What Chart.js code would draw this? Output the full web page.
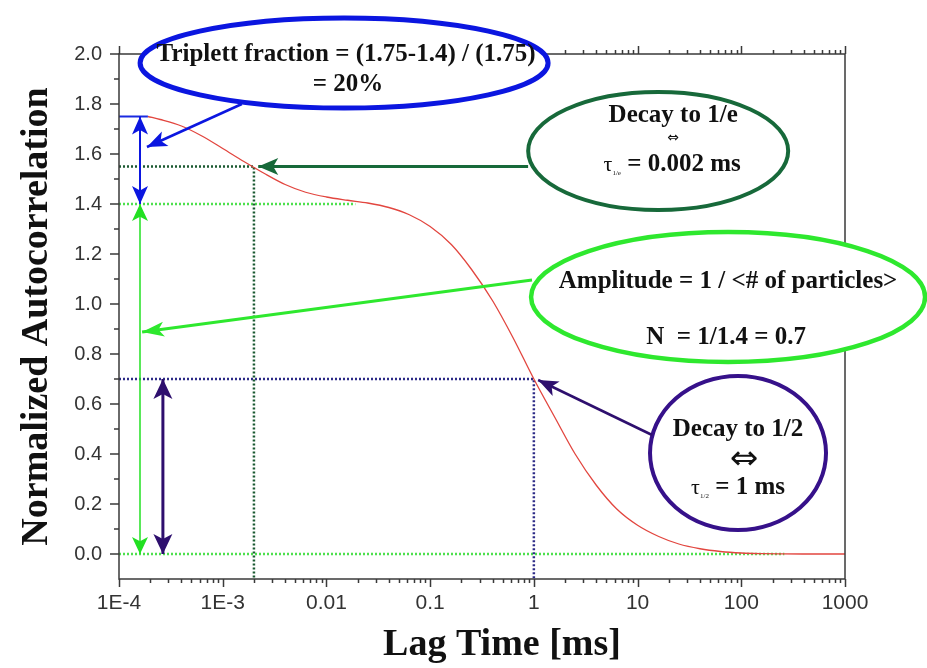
<!DOCTYPE html>
<html>
<head>
<meta charset="utf-8">
<script src="https://cdn.jsdelivr.net/npm/chart.js@4.4.1/dist/chart.umd.min.js"></script>
<style>
  html, body { margin: 0; padding: 0; background: #fff; }
</style>
</head>
<body>
<canvas id="myChart" width="927" height="668"></canvas>
<script>
// Messkurve
const lagTime = [1.9e-4, 2.5e-4, 4e-4, 6.3e-4, 1e-3, 1.6e-3, 2.5e-3, 4e-3, 6.3e-3, 0.01, 0.016,
  0.025, 0.04, 0.063, 0.1, 0.16, 0.25, 0.4, 0.63, 1, 1.6, 2.5, 4, 6.3, 10, 16, 25, 40, 63, 100,
  160, 250, 400, 630, 1000];
const autocorr = [1.75, 1.738, 1.712, 1.672, 1.622, 1.57, 1.523, 1.478, 1.447, 1.428, 1.415,
  1.404, 1.386, 1.357, 1.310, 1.238, 1.139, 1.013, 0.865, 0.70, 0.545, 0.40, 0.275, 0.18, 0.115,
  0.07, 0.04, 0.021, 0.01, 0.004, 0.0015, 0.0005, 0, 0, 0];

// Achsen
const xTicks = [1e-4, 1e-3, 0.01, 0.1, 1, 10, 100, 1000];
const xTickLabels = ["1E-4", "1E-3", "0.01", "0.1", "1", "10", "100", "1000"];
const yTicks = [0, 0.2, 0.4, 0.6, 0.8, 1.0, 1.2, 1.4, 1.6, 1.8, 2.0];
const yTickLabels = ["0.0", "0.2", "0.4", "0.6", "0.8", "1.0", "1.2", "1.4", "1.6", "1.8", "2.0"];
const yMinorTicks = [0.1, 0.3, 0.5, 0.7, 0.9, 1.1, 1.3, 1.5, 1.7, 1.9];

// Hilfslinien
const startLevelX = [1e-4, 1.9e-4];     const startLevelY = [1.75, 1.75];
const eLevelX = [1e-4, 0.002, 0.002];   const eLevelY = [1.55, 1.55, -0.1];
const ampLevelX = [1e-4, 0.019];        const ampLevelY = [1.4, 1.4];
const halfLevelX = [1e-4, 1, 1];        const halfLevelY = [0.7, 0.7, -0.1];
const zeroLevelX = [1e-4, 260];         const zeroLevelY = [0, 0];

const SERIF = "'Liberation Serif', 'Times New Roman', serif";
const SANS = "'Liberation Sans', Arial, sans-serif";

const toPoints = (xs, ys) => xs.map((v, i) => ({ x: v, y: ys[i] }));

function guide(xs, ys, color, dashed) {
  return {
    data: toPoints(xs, ys),
    showLine: true,
    borderColor: color,
    borderWidth: dashed ? 2.5 : 2,
    borderDash: dashed ? [2, 2] : [],
    pointRadius: 0,
    tension: 0
  };
}

// Sprechblasen (Position in Datenkoordinaten, Radien in Pixel)
const callouts = [
  { color: '#0b16e0', lw: 5, at: [0.0148, 1.964], rx: 204, ry: 45,
    lines: [
      { dx: 2, dy: -8, parts: [['Triplett fraction = (1.75-1.4) / (1.75)', 'bold 25px ' + SERIF]] },
      { dx: 4, dy: 22, parts: [['= 20%', 'bold 25px ' + SERIF]] }
    ] },
  { color: '#17693a', lw: 4, at: [15.8, 1.612], rx: 130, ry: 59,
    lines: [
      { dx: 15, dy: -35, parts: [['Decay to 1/e', 'bold 25px ' + SERIF]] },
      { dx: 15, dy: -13, parts: [['\u21D4', '14px DejaVu Sans']] },
      { dx: 14, dy: 14, parts: [['\u03C4', '22px ' + SERIF], ['1/e', '7px ' + SERIF, 8], [' = 0.002 ms', 'bold 25px ' + SERIF]] }
    ] },
  { color: '#2ee82e', lw: 4.5, at: [74.6, 1.028], rx: 197, ry: 65,
    lines: [
      { dx: 0, dy: -15, parts: [['Amplitude = 1 / <# of particles>', 'bold 25px ' + SERIF]] },
      { dx: -2, dy: 41, parts: [['N  = 1/1.4 = 0.7', 'bold 25px ' + SERIF]] }
    ] },
  { color: '#36118a', lw: 4, at: [93, 0.404], rx: 88, ry: 77,
    lines: [
      { dx: 0, dy: -23, parts: [['Decay to 1/2', 'bold 25px ' + SERIF]] },
      { dx: 6, dy: 7, parts: [['\u21D4', '34px DejaVu Sans']] },
      { dx: 0, dy: 35, parts: [['\u03C4', '22px ' + SERIF], ['1/2', '7px ' + SERIF, 8], [' = 1 ms', 'bold 25px ' + SERIF]] }
    ] }
];

// Pfeile: from -> to (Datenkoordinaten)
const arrows = [
  { from: [1.53e-3, 1.80], to: [1.86e-4, 1.628], color: '#0b16e0', lw: 2.5, head: 20, hw: 16 },
  { from: [1.594e-4, 1.75], to: [1.594e-4, 1.4], color: '#0b16e0', lw: 2, head: 18, hw: 16, both: true },
  { from: [1.594e-4, 1.4], to: [1.594e-4, 0], color: '#22e022', lw: 1.5, head: 17, hw: 16, both: true },
  { from: [2.65e-4, 0.7], to: [2.65e-4, 0], color: '#2e0f6e', lw: 3, head: 20, hw: 19, both: true },
  { from: [0.88, 1.55], to: [2.2e-3, 1.55], color: '#17693a', lw: 3, head: 20, hw: 17 },
  { from: [0.96, 1.096], to: [1.67e-4, 0.888], color: '#2ee82e', lw: 3, head: 22, hw: 15 },
  { from: [13.8, 0.476], to: [1.1, 0.696], color: '#2e0f6e', lw: 2.5, head: 20, hw: 16 }
];

function drawArrowHead(ctx, x1, y1, x2, y2, head, hw) {
  const ang = Math.atan2(y2 - y1, x2 - x1);
  ctx.save();
  ctx.translate(x2, y2);
  ctx.rotate(ang);
  ctx.beginPath();
  ctx.moveTo(0, 0);
  ctx.lineTo(-head, -hw / 2);
  ctx.lineTo(-head * 0.75, 0);
  ctx.lineTo(-head, hw / 2);
  ctx.closePath();
  ctx.fill();
  ctx.restore();
}

function drawTextLine(ctx, cx, cy, parts) {
  let total = 0;
  const widths = parts.map(p => { ctx.font = p[1]; const w = ctx.measureText(p[0]).width; total += w; return w; });
  let x = cx - total / 2;
  parts.forEach((p, i) => {
    ctx.font = p[1];
    ctx.fillText(p[0], x, cy + (p[2] || 0));
    x += widths[i];
  });
}

const annotationPlugin = {
  id: 'fcsAnnotations',
  afterDatasetsDraw(chart) {
    const { ctx, chartArea: a, scales: { x, y } } = chart;
    const px = (v) => x.getPixelForValue(v);
    const py = (v) => y.getPixelForValue(v);
    ctx.save();

    // Rahmen + Ticks
    ctx.strokeStyle = '#3a3a3a';
    ctx.lineWidth = 1.5;
    ctx.strokeRect(a.left, a.top, a.right - a.left, a.bottom - a.top);
    ctx.beginPath();
    for (let k = -4; k <= 3; k++) {
      for (let m = 1; m <= 9; m++) {
        const v = m * Math.pow(10, k);
        if (v > 1000.0001) break;
        const len = m === 1 ? 8 : 4;
        const xx = Math.round(px(v)) + 0.5;
        ctx.moveTo(xx, a.bottom); ctx.lineTo(xx, a.bottom + len);
        ctx.moveTo(xx, a.top); ctx.lineTo(xx, a.top - len);
      }
    }
    yTicks.forEach(v => { const yy = py(v); ctx.moveTo(a.left, yy); ctx.lineTo(a.left - 9, yy); });
    yMinorTicks.forEach(v => { const yy = py(v); ctx.moveTo(a.left, yy); ctx.lineTo(a.left - 5, yy); });
    ctx.stroke();

    // Ellipsen + Text
    callouts.forEach(c => {
      const cx = px(c.at[0]), cy = py(c.at[1]);
      ctx.beginPath();
      ctx.ellipse(cx, cy, c.rx, c.ry, 0, 0, Math.PI * 2);
      ctx.fillStyle = '#fff';
      ctx.fill();
      ctx.strokeStyle = c.color;
      ctx.lineWidth = c.lw;
      ctx.stroke();
      ctx.fillStyle = '#111';
      ctx.textAlign = 'left';
      ctx.textBaseline = 'middle';
      c.lines.forEach(l => drawTextLine(ctx, cx + l.dx, cy + l.dy, l.parts));
    });

    // Pfeile
    arrows.forEach(ar => {
      const x1 = px(ar.from[0]), y1 = py(ar.from[1]);
      const x2 = px(ar.to[0]), y2 = py(ar.to[1]);
      ctx.strokeStyle = ar.color;
      ctx.fillStyle = ar.color;
      ctx.lineWidth = ar.lw;
      ctx.beginPath();
      ctx.moveTo(x1, y1);
      ctx.lineTo(x2, y2);
      ctx.stroke();
      drawArrowHead(ctx, x1, y1, x2, y2, ar.head, ar.hw);
      if (ar.both) drawArrowHead(ctx, x2, y2, x1, y1, ar.head, ar.hw);
    });

    // x-Achsentitel
    ctx.fillStyle = '#111';
    ctx.font = 'bold 38px ' + SERIF;
    ctx.textAlign = 'center';
    ctx.textBaseline = 'alphabetic';
    ctx.fillText('Lag Time [ms]', 502, 655);
    ctx.restore();
  }
};

const ctx = document.getElementById("myChart").getContext("2d");
const myChart = new Chart(ctx, {
  type: 'scatter',
  data: {
    datasets: [
      {
        data: toPoints(lagTime, autocorr),
        showLine: true,
        borderColor: '#e2463f',
        borderWidth: 1.3,
        pointRadius: 0,
        cubicInterpolationMode: 'monotone'
      },
      guide(startLevelX, startLevelY, '#1a2ae0', false),
      guide(eLevelX, eLevelY, '#1b5a32', true),
      guide(ampLevelX, ampLevelY, '#4ee04e', true),
      guide(halfLevelX, halfLevelY, '#2c2a86', true),
      guide(zeroLevelX, zeroLevelY, '#4ee04e', true)
    ]
  },
  options: {
    responsive: false,
    animation: false,
    layout: { padding: { left: 0, top: 54, right: 82, bottom: 0 } },
    plugins: { legend: { display: false }, tooltip: { enabled: false } },
    scales: {
      x: {
        type: 'logarithmic',
        min: 1e-4,
        max: 1000,
        grid: { display: false, drawTicks: false },
        border: { display: false },
        ticks: {
          padding: 12,
          autoSkip: false,
          maxRotation: 0,
          color: '#333',
          font: { family: SANS, size: 21 },
          callback: (v, i) => xTickLabels[i]
        },
        afterBuildTicks: s => { s.ticks = xTicks.map(v => ({ value: v })); },
        afterFit: s => { s.height = 89; }
      },
      y: {
        min: -0.1,
        max: 2.0,
        grid: { display: false, drawTicks: false },
        border: { display: false },
        ticks: {
          padding: 17,
          color: '#333',
          font: { family: SANS, size: 20 },
          callback: (v, i) => yTickLabels[i]
        },
        afterBuildTicks: s => { s.ticks = yTicks.map(v => ({ value: v })); },
        afterFit: s => { s.width = 119; },
        title: {
          display: true,
          text: 'Normalized Autocorrelation',
          color: '#111',
          font: { family: SERIF, size: 38, weight: 'bold' },
          padding: { top: 14, bottom: 0 }
        }
      }
    }
  },
  plugins: [annotationPlugin]
});
</script>
</body>
</html>
